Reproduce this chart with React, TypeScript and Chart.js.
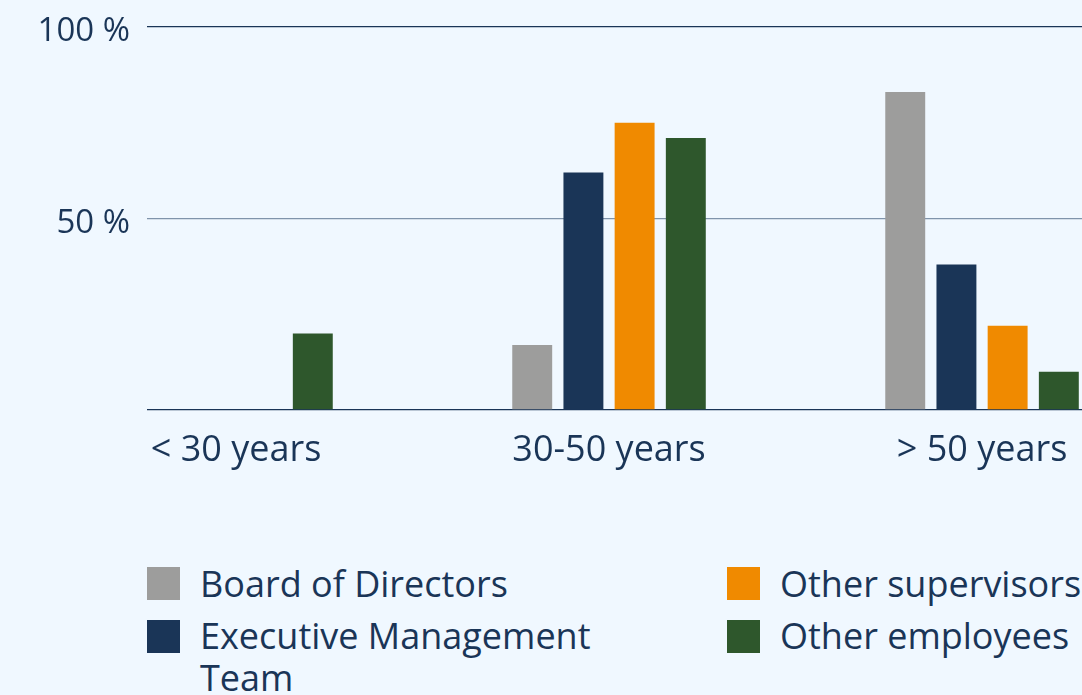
import React, { useEffect, useRef } from "react";
import { Chart, registerables } from "chart.js";

Chart.register(...registerables);

const categories = ["< 30 years", "30-50 years", "> 50 years"];
const seriesNames = ["Board of Directors", "Executive Management Team", "Other supervisors", "Other employees"];
const boardValues = [0, 17, 83];
const execValues = [0, 62, 38];
const supervisorValues = [0, 75, 22];
const employeeValues = [20, 71, 10];
const seriesColors = ["#9d9d9c", "#1a3557", "#f08a00", "#2e572c"];
const yTicks = [0, 50, 100];

const TEXT = "#1a3557";
const BG = "#f0f8ff";
const FONT = "'Open Sans', sans-serif";

export default function App() {
  const ref = useRef<HTMLCanvasElement | null>(null);

  useEffect(() => {
    document.body.style.margin = "0";
    document.body.style.background = BG;
    const canvas = ref.current;
    if (!canvas) return;
    const allValues = [boardValues, execValues, supervisorValues, employeeValues];
    const chart = new Chart(canvas, {
      type: "bar",
      data: {
        datasets: allValues.map((vals, s) => ({
          label: seriesNames[s],
          data: vals.map((v, i) => ({ x: i, y: v })),
          backgroundColor: seriesColors[s],
          borderWidth: 0,
          categoryPercentage: 0.549,
          barPercentage: 0.78,
        })),
      },
      options: {
        animation: false,
        responsive: false,
        maintainAspectRatio: false,
        layout: { padding: { top: 25, left: 0, right: 0, bottom: 0 } },
        plugins: { legend: { display: false }, tooltip: { enabled: false } },
        scales: {
          x: {
            type: "linear",
            offset: false,
            min: -0.2386,
            max: 2.268,
            grid: { display: false, drawTicks: false, offset: false },
            border: { display: false },
            afterBuildTicks: (scale: any) => {
              scale.ticks = categories.map((_, i) => ({ value: i }));
            },
            afterFit: (scale: any) => {
              scale.height = 70;
              scale.paddingLeft = 0;
              scale.paddingRight = 0;
            },
            ticks: {
              autoSkip: false,
              maxRotation: 0,
              padding: 19,
              color: TEXT,
              font: { family: FONT, size: 36 },
              callback: (v: any) => categories[v as number] ?? "",
            },
          },
          y: {
            min: 0,
            max: 100,
            afterBuildTicks: (scale: any) => {
              scale.ticks = yTicks.map((v) => ({ value: v }));
            },
            afterFit: (scale: any) => {
              scale.width = 147;
            },
            grid: {
              drawTicks: false,
              lineWidth: 1.3,
              color: (ctx: any) => (ctx.tick && ctx.tick.value === 50 ? "#8094ab" : TEXT),
            },
            border: { display: false },
            ticks: {
              padding: 17,
              color: TEXT,
              font: { family: FONT, size: 33, lineHeight: "10px" },
              callback: (v: any) => (v === 0 ? "" : ["", v + " %"]),
            },
          },
        },
      },
    });
    return () => chart.destroy();
  }, []);

  const legendItem = (i: number, textWidth: number) => (
    <div key={i} style={{ display: "flex", alignItems: "flex-start" }}>
      <div
        style={{
          width: 33,
          height: 33,
          background: seriesColors[i],
          marginTop: 4.5,
          flex: "0 0 auto",
        }}
      />
      <div style={{ marginLeft: 20, width: textWidth, whiteSpace: textWidth > 400 ? "normal" : "nowrap" }}>
        {seriesNames[i]}
      </div>
    </div>
  );

  return (
    <div style={{ width: 1082, background: BG, fontFamily: FONT, color: TEXT }}>
      <canvas ref={ref} width={1082} height={480} style={{ display: "block" }} />
      <div
        style={{
          marginTop: 82.5,
          marginLeft: 147,
          display: "grid",
          gridTemplateColumns: "580px 355px",
          rowGap: 10.5,
          fontSize: 36,
          lineHeight: "42px",
        }}
      >
        {legendItem(0, 420)}
        {legendItem(2, 300)}
        {legendItem(1, 420)}
        {legendItem(3, 300)}
      </div>
    </div>
  );
}
